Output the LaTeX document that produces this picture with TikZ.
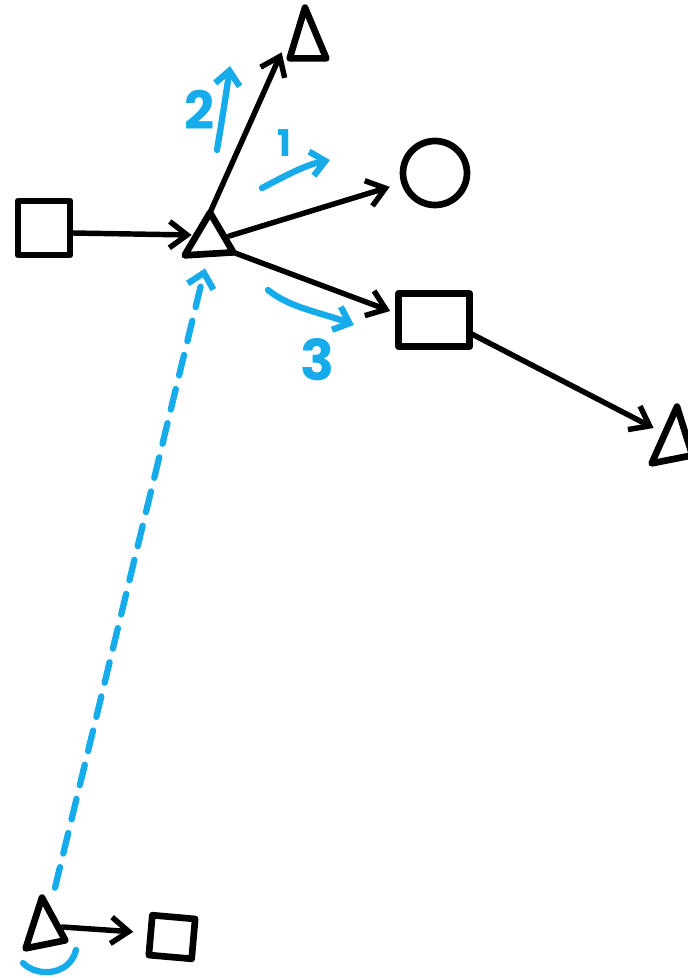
\documentclass[tikz,border=0pt]{standalone}
\usepackage{fontspec}
\setmainfont{Poppins}
\usetikzlibrary{arrows.meta,calc}
\definecolor{sketchblue}{RGB}{22,172,236}
\begin{document}
\begin{tikzpicture}[x=0.02cm,y=-0.02cm,
  shapeline/.style={line width=3.8pt,line cap=round,line join=round},
  box/.style={draw,shapeline,rectangle,inner sep=0pt},
  tri/.style={rectangle,inner sep=0pt,draw=none},
  conn/.style={line width=3.1pt,line cap=round,-{Straight Barb[length=10pt,width=15pt,line width=3.1pt]}},
  bluestroke/.style={sketchblue,line width=3.6pt,line cap=round},
  blueconn/.style={bluestroke,-{Straight Barb[length=8pt,width=14pt,line width=3.6pt]}},
  lbl/.style={text=sketchblue,inner sep=0pt,font=\bfseries}
]
\useasboundingbox (0,0) rectangle (687,978);

% shapes
\node[box,minimum width=1.04cm,minimum height=1.08cm] (S1) at (44,228) {};
\node[tri,minimum width=0.92cm,minimum height=0.84cm] (M) at (210,234) {};
\draw[shapeline] ($(M.south west)+(-2,0)$) -- (M.north) -- ($(M.south east)+(0,-3)$) -- cycle;
\node[tri,minimum width=0.72cm,minimum height=1.0cm] (T) at (308,33) {};
\draw[shapeline] (T.south west) -- ($(T.north)+(-3,0)$) -- (T.south east) -- cycle;
\node[draw,shapeline,circle,minimum size=1.28cm,inner sep=0pt] (C) at (435,173) {};
\node[box,minimum width=1.42cm,minimum height=1.06cm] (R) at (434,320) {};
\node[tri,minimum width=0.8cm,minimum height=1.08cm] (RT) at (672,434) {};
\draw[shapeline] ($(RT.south west)+(0,2)$) -- ($(RT.north)+(5,0)$) -- ($(RT.south east)+(0,-6)$) -- cycle;
\node[tri,minimum width=0.72cm,minimum height=0.96cm] (BT) at (47,922) {};
\draw[shapeline] ($(BT.south west)+(-3,2)$) -- ($(BT.north)+(-5,0)$) -- ($(BT.south east)+(0,-6)$) -- cycle;
\node[box,rotate=-5,minimum width=0.86cm,minimum height=0.8cm] (BS) at (172,937) {};

% black connectors
\draw[conn] ($(S1.east)+(0,5)$) -- ($(M.west)+(5,1)$);
\draw[conn] (M.north) -- ($(T.south west)+(-8,-6)$);
\draw[conn,shorten >=0.24cm] ($(M.east)+(-4,2)$) -- (C);
\draw[conn] ($(M.south east)+(0,-3)$) -- ($(R.west)+(-5,-9)$);
\draw[conn] ($(R.east)+(-3,13)$) -- ($(RT.west)+(2,-6)$);
\draw[conn] ($(BT.east)+(-3,5)$) -- ($(BS.west)+(-14,-3)$);

% blue dashed connector
\draw[bluestroke,dash pattern=on 12pt off 8pt,-{Straight Barb[length=8pt,width=15pt,line width=3.6pt]}]
  ($(BT.north)+(8,-10)$) -- ($(M.south)+(-5,13)$);
\draw[bluestroke] (23,963) .. controls (38,978) and (70,975) .. (76,950);

% blue labels
\node[lbl,font=\bfseries\fontsize{30}{30}\selectfont] (L2) at (200,110) {2};
\draw[blueconn] (217,150) .. controls (222,120) and (226,95) .. (230,66);
\node[lbl,font=\bfseries\fontsize{21}{21}\selectfont] (L1) at (284,143) {1};
\draw[blueconn] (262,188) .. controls (285,176) and (305,165) .. (330,160);
\node[lbl,font=\bfseries\fontsize{32}{32}\selectfont] (L3) at (318,360) {3};
\draw[blueconn] (268,290) .. controls (290,308) and (320,312) .. (354,325);
\end{tikzpicture}
\end{document}
